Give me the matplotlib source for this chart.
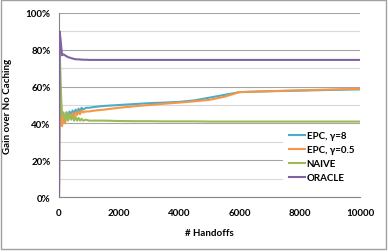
import matplotlib.pyplot as plt
from matplotlib.ticker import MultipleLocator, FuncFormatter
from matplotlib.patches import Rectangle

# values (gain in %)
handoffs = [0, 20, 50, 100, 150, 200, 250, 300, 350, 400, 450, 500, 550, 600,
            650, 700, 750, 800, 900, 1000, 1200, 1500, 2000, 2500, 3000, 3500,
            4000, 4500, 5000, 5500, 6000, 7000, 8000, 9000, 10000]

epc_g8 = [0, 80, 55, 40, 45, 41, 46, 43, 46.5, 44, 47, 45, 47.5, 46, 48, 46.5,
          48.5, 47.5, 48.5, 48.5, 49, 49.5, 50, 50.5, 51, 51.3, 51.7, 52.5,
          54, 55.5, 57, 57.5, 57.8, 58.2, 58.5]
epc_g05 = [0, 75, 50, 38.5, 44, 40, 45, 41.5, 45, 42.5, 45.5, 43.5, 46, 44.5,
           46.5, 45, 47, 46, 46.5, 46.5, 47, 47.5, 48.5, 49.3, 50, 50.7, 51.3,
           52, 52.8, 54.5, 57, 57.5, 58, 58.4, 58.8]
naive = [0, 85, 62, 44, 46, 41, 46, 42, 45, 42, 44, 41.5, 43.5, 41.5, 43, 41.5,
         42.5, 41.5, 42, 41.5, 41.5, 41.5, 41.3, 41.2, 41.2, 41.1, 41.1, 41.1,
         41, 41, 41, 41, 41, 41, 41]
oracle = [0, 90, 86, 77, 77.5, 77, 76.5, 76, 75.8, 75.5, 75.3, 75, 74.9, 74.8,
          74.8, 74.7, 74.7, 74.6, 74.6, 74.5, 74.5, 74.5, 74.5, 74.5, 74.5,
          74.5, 74.5, 74.5, 74.5, 74.5, 74.5, 74.5, 74.5, 74.5, 74.5]

series = [
    ('EPC, γ=8', epc_g8, '#4BACC6'),
    ('EPC, γ=0.5', epc_g05, '#F79646'),
    ('NAIVE', naive, '#9BBB59'),
    ('ORACLE', oracle, '#8064A2'),
]

plt.rcParams['font.family'] = ['Lato', 'DejaVu Sans']
plt.rcParams['font.weight'] = 'bold'

fig = plt.figure(figsize=(3.88, 2.53), dpi=100)
ax = fig.add_axes([59 / 388, 1 - 198 / 253, 301 / 388, 184 / 253])

for label, vals, color in series:
    ax.plot(handoffs, [v / 100 for v in vals], color=color, lw=1.5, label=label,
            zorder=3)

ax.set_xlim(0, 10000)
ax.set_ylim(0, 1)
ax.set_xticks(range(0, 10001, 2000))
ax.yaxis.set_major_locator(MultipleLocator(0.2))
ax.yaxis.set_minor_locator(MultipleLocator(0.1))
ax.yaxis.set_major_formatter(FuncFormatter(lambda v, p: f'{v * 100:.0f}%'))
ax.grid(axis='y', which='major', color='#A6A6A6', lw=0.8)
ax.grid(axis='y', which='minor', color='#D9D9D9', lw=0.8)
ax.set_axisbelow(True)
ax.tick_params(which='both', length=0, labelsize=7, pad=6)
ax.tick_params(axis='x', pad=8)
for lab in ax.get_xticklabels() + ax.get_yticklabels():
    lab.set_fontweight('bold')

for s in ['top', 'right']:
    ax.spines[s].set_visible(False)
ax.spines['bottom'].set_color('#868686')
ax.spines['left'].set_color('#868686')

ax.set_xlabel('# Handoffs', fontsize=7, fontweight='bold', labelpad=8)
ax.set_ylabel('Gain over No Caching', fontsize=7, fontweight='bold', labelpad=10)

leg = ax.legend(loc='lower right', bbox_to_anchor=(1.0, 0.05), fontsize=7,
                frameon=True, fancybox=False, facecolor='white', edgecolor='none',
                framealpha=1, handlelength=1.6, handletextpad=0.2,
                labelspacing=0.5, borderpad=0.6, borderaxespad=0)
for t in leg.get_texts():
    t.set_fontweight('bold')

fig.patches.append(Rectangle((1 / 388, 3 / 253), 385 / 388, 249 / 253,
                             transform=fig.transFigure, fill=False,
                             edgecolor='#A0A0A0', lw=1))

fig.savefig('out.png', dpi=100)
